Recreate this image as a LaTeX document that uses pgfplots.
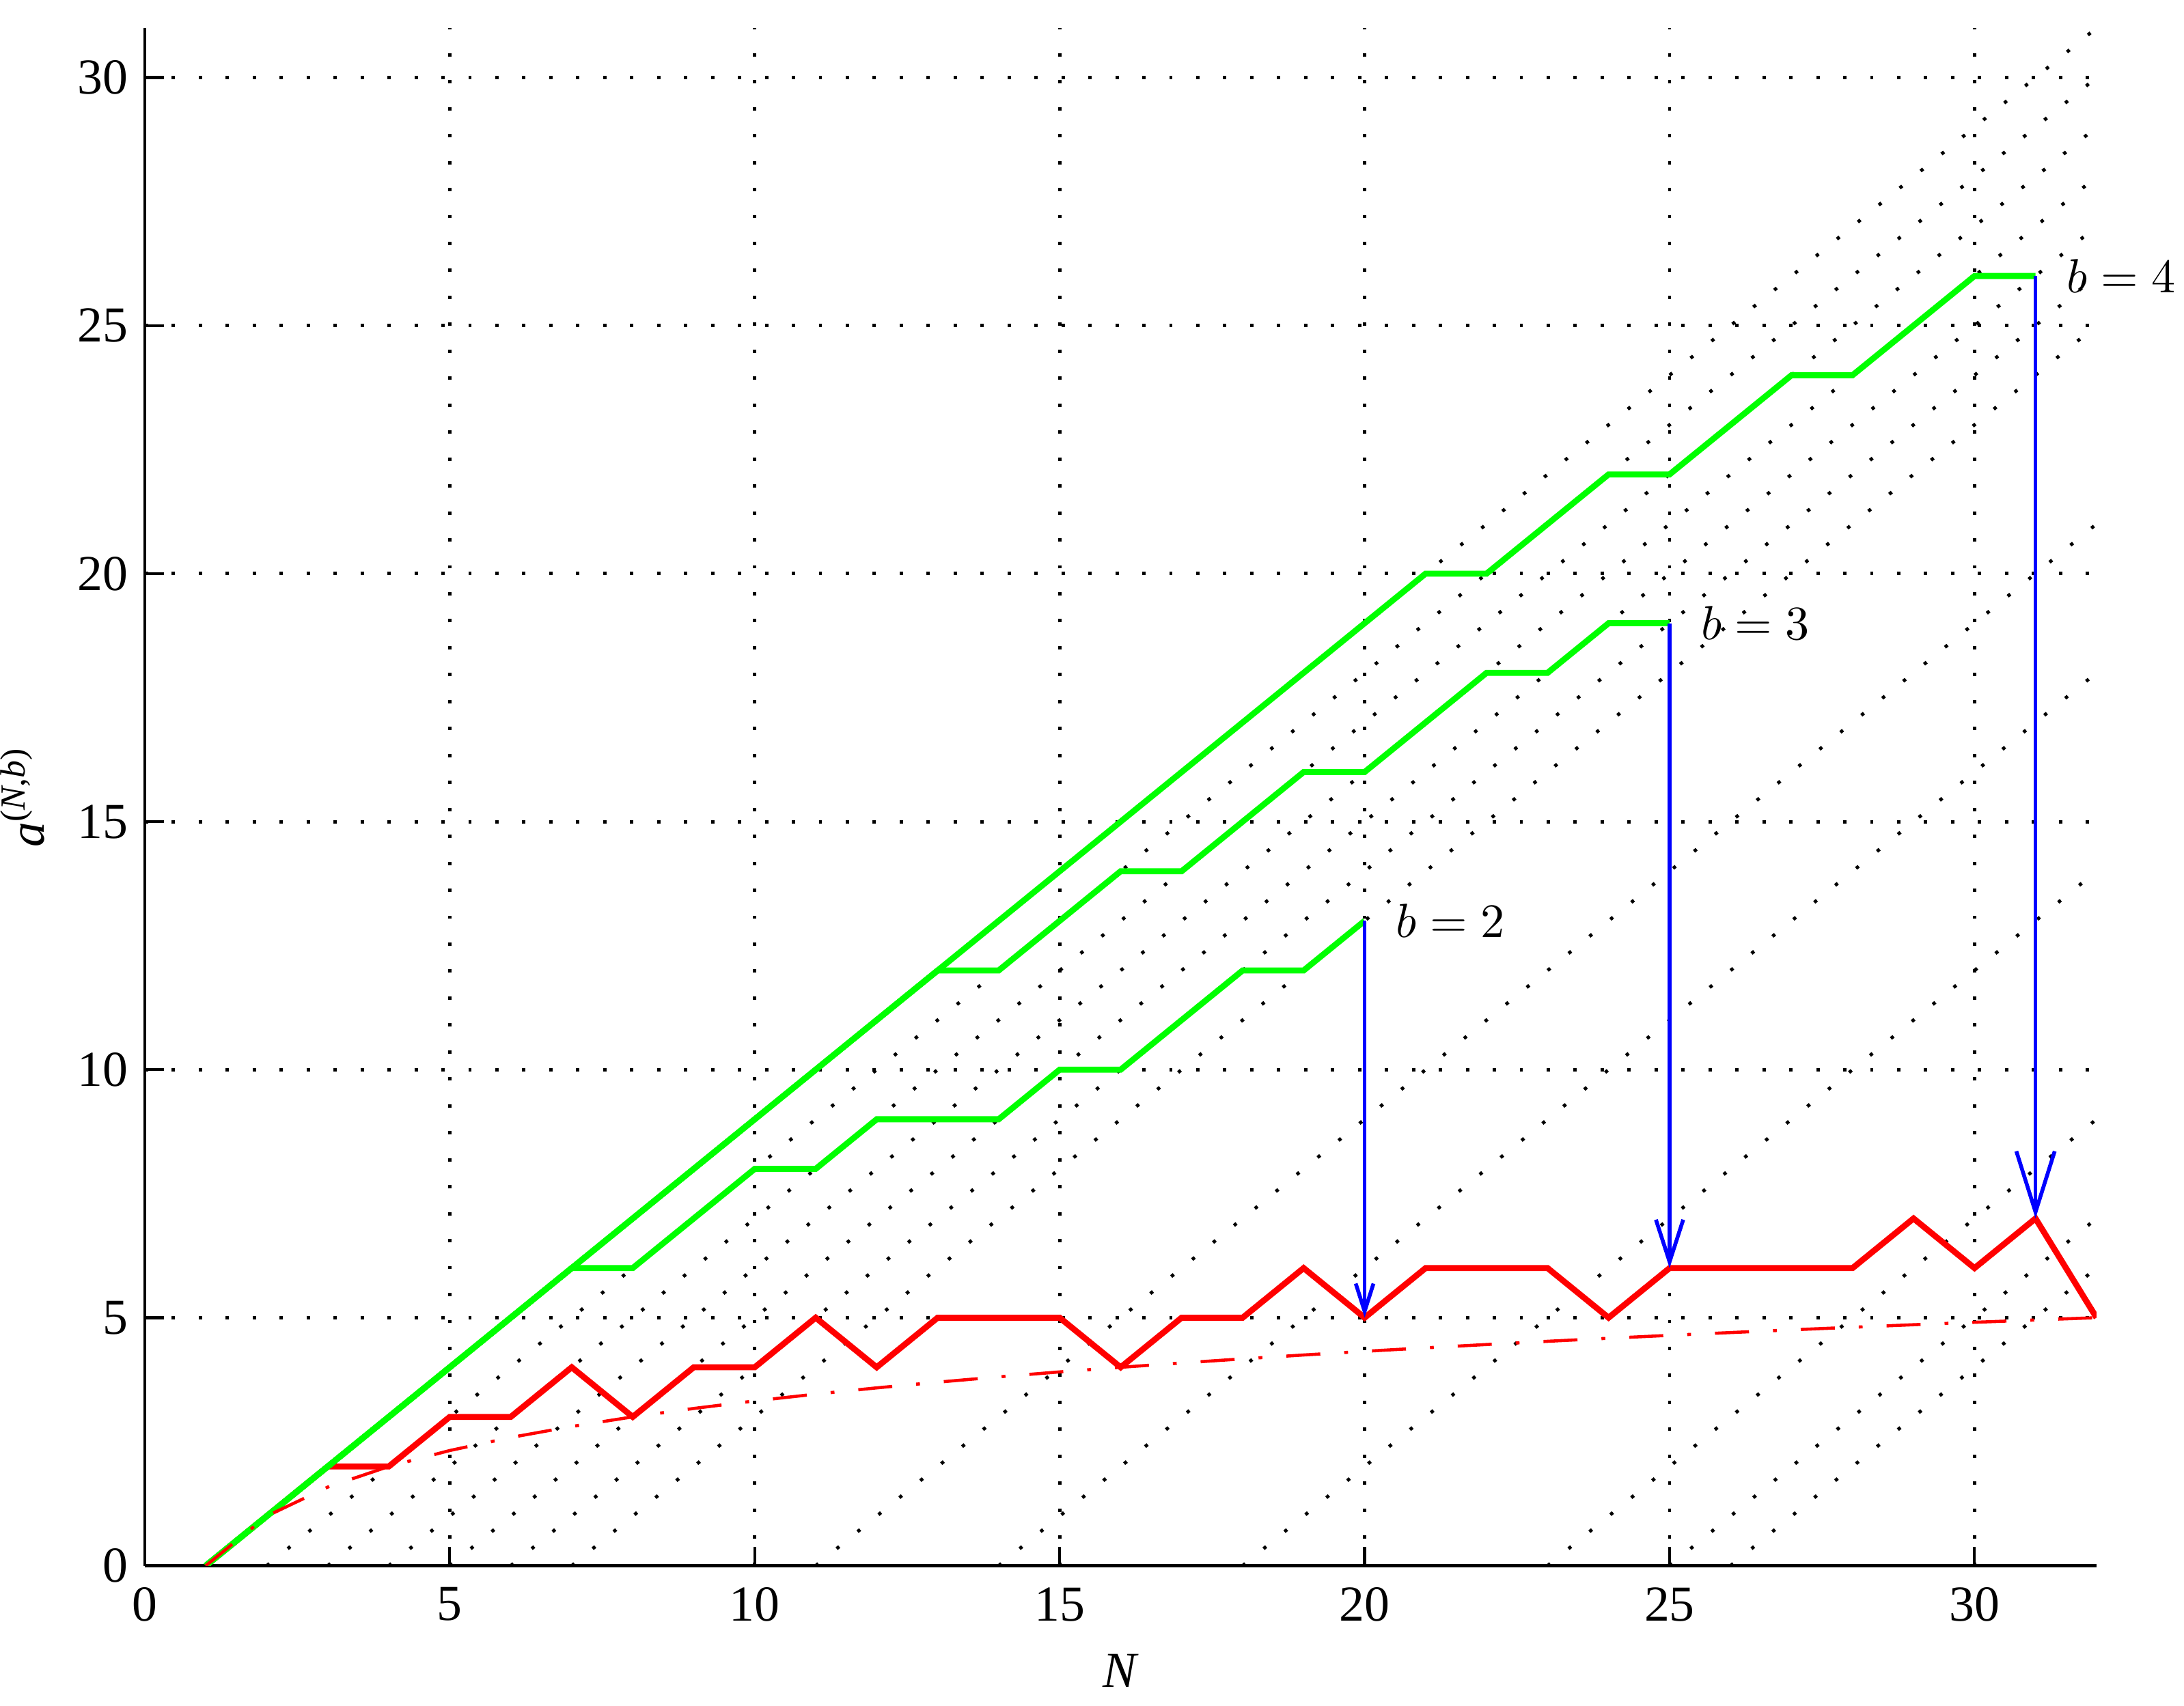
\documentclass[border=0pt]{standalone}
\usepackage{fontspec}
\setmainfont{Liberation Serif}
\usepackage{pgfplots}
\pgfplotsset{compat=1.18}
\usetikzlibrary{arrows.meta}

\definecolor{mgreen}{rgb}{0,1,0}
\definecolor{mred}{rgb}{1,0,0}
\definecolor{mblue}{rgb}{0,0,1}

\tikzset{
  dotline/.style={black, line width=0.7pt, dash pattern=on 0.7pt off 4.92pt},
  greenline/.style={mgreen, line width=1.25pt, line join=miter},
  redline/.style={mred, line width=1.25pt, line join=miter},
  bluearrow/.style={mblue, line width=0.8pt},
}

\begin{document}
\begin{tikzpicture}
\begin{axis}[
  scale only axis,
  width=14.30cm, height=11.27cm,
  xmin=0, xmax=32, ymin=0, ymax=31,
  clip mode=individual,
  xtick={0,5,...,30}, ytick={0,5,...,30},
  axis x line=bottom, axis y line=left,
  axis line style={-, line width=0.6pt, black},
  tick align=inside,
  major tick length=0.14cm,
  tick style={line width=0.6pt, black},
  grid=major,
  major grid style={dotline},
  /pgf/number format/assume math mode=true,
  tick label style={font=\fontsize{10.5}{12}\selectfont},
  xticklabel style={yshift=-1pt},
  xlabel={\textit{N}},
  ylabel={\textit{a}\textsuperscript{(\textit{N},\textit{b})}},
  label style={font=\fontsize{10.5}{12}\selectfont},
]
% dotted diagonals a = N - c
\addplot[dotline] coordinates {(1,0) (32,31)};
\addplot[dotline] coordinates {(2,0) (32,30)};
\addplot[dotline] coordinates {(3,0) (32,29)};
\addplot[dotline] coordinates {(4,0) (32,28)};
\addplot[dotline] coordinates {(5,0) (32,27)};
\addplot[dotline] coordinates {(6,0) (32,26)};
\addplot[dotline] coordinates {(7,0) (32,25)};
\addplot[dotline] coordinates {(11,0) (32,21)};
\addplot[dotline] coordinates {(14,0) (32,18)};
\addplot[dotline] coordinates {(18,0) (32,14)};
\addplot[dotline] coordinates {(23,0) (32,9)};
\addplot[dotline] coordinates {(25,0) (32,7)};
\addplot[dotline] coordinates {(26,0) (32,6)};

% minimum over b
\addplot[redline] coordinates {
  (1,0) (2,1) (3,2) (4,2) (5,3) (6,3) (7,4) (8,3) (9,4) (10,4) (11,5) (12,4)
  (13,5) (14,5) (15,5) (16,4) (17,5) (18,5) (19,6) (20,5) (21,6) (22,6) (23,6) (24,5)
  (25,6) (26,6) (27,6) (28,6) (29,7) (30,6) (31,7) (32,5)};

% b = 4
\addplot[greenline] coordinates {
  (1,0) (21,20) (22,20) (24,22) (25,22) (27,24) (28,24) (30,26) (31,26)};
% b = 3
\addplot[greenline] coordinates {
  (1,0) (13,12) (14,12) (16,14) (17,14) (19,16) (20,16) (22,18) (23,18) (24,19) (25,19)};
% b = 2
\addplot[greenline] coordinates {
  (1,0) (7,6) (8,6) (10,8) (11,8) (12,9) (14,9) (15,10) (16,10) (18,12) (19,12) (20,13)};

% lower bound (dash-dot)
\addplot[mred, line width=0.65pt, dash pattern=on 7.1pt off 5pt on 0.8pt off 5pt] coordinates {
  (1,0) (2,1) (3,1.585) (4,2) (5,2.322) (6,2.585) (7,2.807) (8,3)
  (9,3.170) (10,3.322) (11,3.459) (12,3.585) (13,3.700) (14,3.807) (15,3.907) (16,4)
  (17,4.087) (18,4.170) (19,4.248) (20,4.322) (21,4.392) (22,4.459) (23,4.524) (24,4.585)
  (25,4.644) (26,4.700) (27,4.755) (28,4.807) (29,4.858) (30,4.907) (31,4.954) (32,5)};

% arrows
\addplot[bluearrow, -{Straight Barb[length=5.8pt, width=3.7pt]}] coordinates {(20,13) (20,5)};
\addplot[bluearrow, -{Straight Barb[length=8.8pt, width=5.7pt]}] coordinates {(25,19) (25,6)};
\addplot[bluearrow, -{Straight Barb[length=12.7pt, width=8pt]}] coordinates {(31,26) (31,7)};

\node[anchor=west, inner sep=0pt] at (axis cs:20.5,13) {$b=2$};
\node[anchor=west, inner sep=0pt] at (axis cs:25.5,19) {$b=3$};
\node[anchor=west, inner sep=0pt] at (axis cs:31.5,26) {$b=4$};
\end{axis}
\pgfresetboundingbox
\path[use as bounding box]
  ([shift={(-1.061cm,-1.026cm)}]current axis.south west)
  rectangle ([shift={(0.641cm,0.205cm)}]current axis.north east);
\end{tikzpicture}
\end{document}
